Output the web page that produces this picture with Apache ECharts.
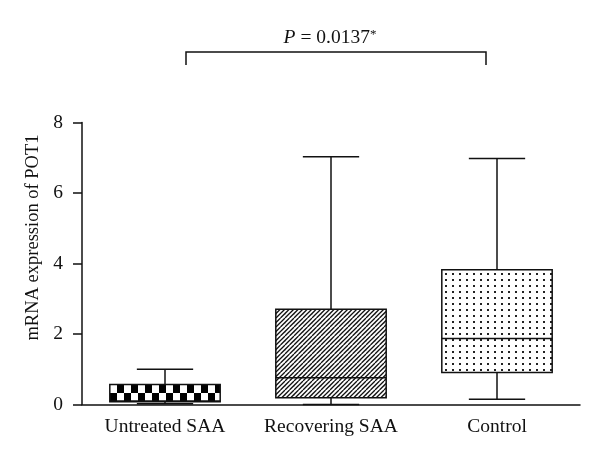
<!DOCTYPE html>
<html>
<head>
<meta charset="utf-8">
<script src="https://cdn.jsdelivr.net/npm/echarts@6/dist/echarts.min.js"></script>
<style>html,body{margin:0;padding:0;background:#fff}#c{width:600px;height:462px}</style>
</head>
<body>
<div id="c"></div>
<script>
// ---- data ----
var categories = ['Untreated SAA', 'Recovering SAA', 'Control'];
var minValues    = [0.02, 0.00, 0.15];
var q1Values     = [0.08, 0.19, 0.91];
var medianValues = [0.10, 0.76, 1.87];
var q3Values     = [0.57, 2.70, 3.82];
var maxValues    = [1.00, 7.03, 6.98];
var yTicks = [0, 2, 4, 6, 8];
var pText = '0.0137';

var FONT = 'Liberation Serif';

function makeCanvas(w, h, draw) {
  var c = document.createElement('canvas');
  c.width = w; c.height = h;
  var ctx = c.getContext('2d');
  ctx.fillStyle = '#fff'; ctx.fillRect(0, 0, w, h);
  draw(ctx);
  return c;
}
var checker = makeCanvas(14, 18, function (ctx) {
  ctx.fillStyle = '#000';
  ctx.fillRect(7, 0, 7, 9);
  ctx.fillRect(0, 9, 7, 9);
});
var hatch = makeCanvas(9, 9, function (ctx) {
  ctx.strokeStyle = '#111'; ctx.lineWidth = 1.3;
  for (var c = -18; c <= 27; c += 4.5) {
    ctx.beginPath(); ctx.moveTo(c, 9); ctx.lineTo(c + 9, 0); ctx.stroke();
  }
});
var dots = makeCanvas(7, 6, function (ctx) {
  ctx.fillStyle = '#222';
  ctx.fillRect(3, 3, 2, 2);
});
var patterns = [checker, hatch, dots];

var data = categories.map(function (c, i) {
  return [i, minValues[i], q1Values[i], medianValues[i], q3Values[i], maxValues[i]];
});

function renderItem(params, api) {
  var idx = api.value(0);
  var x = api.coord([idx, 0])[0];
  var band = api.size([1, 0])[0];
  var boxW = band * 0.665;
  var capW = boxW * 0.51;
  var yMin = api.coord([idx, api.value(1)])[1];
  var yQ1 = api.coord([idx, api.value(2)])[1];
  var yMed = api.coord([idx, api.value(3)])[1];
  var yQ3 = api.coord([idx, api.value(4)])[1];
  var yMax = api.coord([idx, api.value(5)])[1];
  var ls = { stroke: '#111', lineWidth: 1.5, fill: null };
  var left = x - boxW / 2;
  return {
    type: 'group',
    children: [
      { type: 'line', shape: { x1: x, y1: yQ3, x2: x, y2: yMax }, style: ls },
      { type: 'line', shape: { x1: x - capW / 2, y1: yMax, x2: x + capW / 2, y2: yMax }, style: ls },
      { type: 'line', shape: { x1: x, y1: yQ1, x2: x, y2: yMin }, style: ls },
      { type: 'line', shape: { x1: x - capW / 2, y1: yMin, x2: x + capW / 2, y2: yMin }, style: ls },
      { type: 'rect', shape: { x: left, y: yQ3, width: boxW, height: yQ1 - yQ3 },
        style: { fill: { image: patterns[idx], repeat: 'repeat', x: Math.round(left), y: Math.round(yQ3) }, stroke: '#111', lineWidth: 1.5 } },
      { type: 'line', shape: { x1: left, y1: yMed, x2: left + boxW, y2: yMed }, style: ls }
    ]
  };
}

var chart = echarts.init(document.getElementById('c'), null, { renderer: 'canvas' });
chart.setOption({
  animation: false,
  backgroundColor: '#fff',
  grid: { left: 82, right: 20, top: 122.5, bottom: 57.5 },
  xAxis: {
    type: 'category', data: categories,
    axisLine: { lineStyle: { color: '#111', width: 1.5 } },
    axisTick: { alignWithLabel: true, length: 8, lineStyle: { color: '#111', width: 1.5 } },
    axisLabel: { interval: 0, hideOverlap: false, color: '#111', fontFamily: FONT, fontSize: 19.5, margin: 12 }
  },
  yAxis: {
    type: 'value', min: yTicks[0], max: yTicks[yTicks.length - 1], interval: yTicks[1] - yTicks[0],
    splitLine: { show: false },
    axisLine: { show: true, lineStyle: { color: '#111', width: 1.5 } },
    axisTick: { show: true, length: 9, lineStyle: { color: '#111', width: 1.5 } },
    axisLabel: { color: '#111', fontFamily: FONT, fontSize: 19.5, margin: 19 }
  },
  series: [{ type: 'custom', renderItem: renderItem, data: data, clip: false }],
  graphic: [
    { type: 'text', x: 33, y: 237.5, rotation: Math.PI / 2,
      style: { text: 'mRNA expression of POT1', font: '18.5px "' + FONT + '"', fill: '#111', align: 'center', verticalAlign: 'middle' } },
    { type: 'text', x: 330, y: 38,
      style: { text: '{i|P} = ' + pText + '{s|*}', align: 'center', verticalAlign: 'middle', fill: '#111',
        font: '19.5px "' + FONT + '"',
        rich: { i: { fontStyle: 'italic', fontFamily: FONT, fontSize: 19.5, fill: '#111' },
                s: { fontSize: 13, fontFamily: FONT, verticalAlign: 'top', fill: '#111' } } } },
    { type: 'polyline', shape: { points: [[186, 65], [186, 52], [486, 52], [486, 65]] },
      style: { stroke: '#111', lineWidth: 1.5, fill: null } }
  ]
});
</script>
</body>
</html>
